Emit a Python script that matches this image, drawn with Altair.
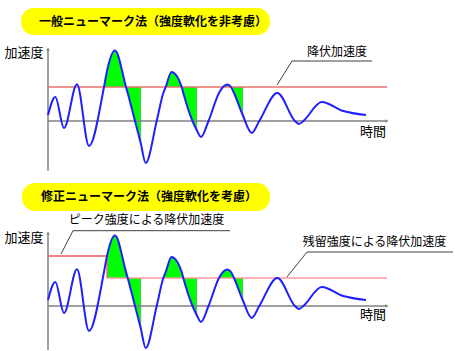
import altair as alt
import pandas as pd

# ---------------- data ----------------
# common acceleration wave: time (t) and acceleration (acc), baseline = 0
wave_t = [0, 7.3, 16, 29, 41, 56, 59, 67, 78, 79.7, 87, 92.7, 97.7, 108.7,
          115.3, 117.7, 123.5, 133.7, 135.3, 144.5, 148.7, 153, 160.5, 171,
          175, 179.3, 183, 186, 194.7, 203.7, 211.3, 229.3, 247, 251, 255.3,
          273.7, 295.3, 318]
wave_acc = [6, 24, -7, 36.7, -25, 34, 50, 70.5, 34, 28, 0, -22, -42, 0,
            28, 34, 49, 34, 28, 0, -9, -16, 0, 28,
            34, 36.5, 34, 28, 6, -12, 0, 28, 0, -3, 0,
            19, 10, 6]

# panel 1: constant yield acceleration
yield_top = 34
fill_start_top = [56, 117.7, 175]
fill_end_top = [92.7, 148.7, 194.7]

# panel 2: peak yield acceleration then residual yield acceleration
yield_peak = 50
yield_resid = 28
drop_t = 59
fill_start_bot = [59, 115.3, 171]
fill_end_bot = [92.7, 148.7, 194.7]

titles = ["一般ニューマーク法（強度軟化を非考慮）", "修正ニューマーク法（強度軟化を考慮）"]
ylabel = "加速度"
xlabel = "時間"
label_top = "降伏加速度"
label_peak = "ピーク強度による降伏加速度"
label_resid = "残留強度による降伏加速度"

# ---------------- layout ----------------
W = 455
H1, H2 = 176, 175
XDOM = [-48, 407]
YDOM1 = [-55, 121]
YDOM2 = [-45, 130]
FONT = "Noto Sans CJK JP"
BLUE = "#1f1fff"
GREEN = "#00ff00"
GRAY = "#808080"


def X(f="t"):
    return alt.X(f"{f}:Q", scale=alt.Scale(domain=XDOM, nice=False, zero=False), axis=None)


def Y(f, dom):
    return alt.Y(f"{f}:Q", scale=alt.Scale(domain=dom, nice=False, zero=False), axis=None)


wave = pd.DataFrame({"t": wave_t, "acc": wave_acc})


def fills(starts, ends, base):
    rows = []
    for i, (s, e) in enumerate(zip(starts, ends)):
        sub = wave[(wave.t >= s - 1e-9) & (wave.t <= e + 1e-9)]
        for _, r in sub.iterrows():
            rows.append({"t": r.t, "acc": r.acc, "base": base, "ev": i})
    return pd.DataFrame(rows)


def edges(ends, base):
    rows = []
    for e in ends:
        a = float(wave[abs(wave.t - e) < 1e-9].acc.iloc[0])
        rows.append({"t": e, "t2": e, "a": base, "a2": a})
    return pd.DataFrame(rows)


def seg(df, dom, color, width):
    return alt.Chart(df).mark_rule(color=color, strokeWidth=width).encode(
        x=X("t"), x2="t2:Q", y=Y("a", dom), y2="a2:Q")


def txt(df, dom, size, weight="normal", align="center"):
    return alt.Chart(df).mark_text(font=FONT, fontSize=size, fontWeight=weight,
                                   align=align, baseline="middle", color="black").encode(
        x=X("t"), y=Y("a", dom), text="s:N")


def polyline(df, dom, color="#404040"):
    return alt.Chart(df).mark_line(color=color, strokeWidth=1).encode(
        x=X("t"), y=Y("a", dom), order="o:Q")


def arrowheads(dom, ytop, xend):
    up = alt.Chart(pd.DataFrame({"t": [0], "a": [ytop]})).mark_point(
        shape="triangle-up", filled=True, size=14, color=GRAY, opacity=1).encode(x=X("t"), y=Y("a", dom))
    rt = alt.Chart(pd.DataFrame({"t": [xend], "a": [0]})).mark_point(
        shape="triangle-right", filled=True, size=14, color=GRAY, opacity=1).encode(x=X("t"), y=Y("a", dom))
    return up + rt


def common(dom, banner, title_pos, title, ylab_pos, ybot, ytop, fill_df, edge_df):
    b = alt.Chart(pd.DataFrame([banner])).mark_rect(cornerRadius=13, color="#ffff00").encode(
        x=X("t"), x2="t2:Q", y=Y("a", dom), y2="a2:Q")
    bt = txt(pd.DataFrame([{"t": title_pos[0], "a": title_pos[1], "s": title}]), dom, 12, "bold")
    fl = alt.Chart(fill_df).mark_area(color=GREEN, opacity=1, interpolate="monotone").encode(
        x=X("t"), y=Y("acc", dom), y2="base:Q", detail="ev:N")
    ed = seg(edge_df, dom, "#5cb85c", 1)
    yax = seg(pd.DataFrame([{"t": 0, "t2": 0, "a": ybot, "a2": ytop}]), dom, GRAY, 1.5)
    xax = seg(pd.DataFrame([{"t": 0, "t2": 339, "a": 0, "a2": 0}]), dom, GRAY, 1.5)
    yl = txt(pd.DataFrame([{"t": -24, "a": ylab_pos, "s": ylabel}]), dom, 13)
    return b, bt, alt.layer(fl, ed), yax, xax, yl


# ---------------- panel 1 ----------------
b, bt, fl, yax, xax, yl = common(
    YDOM1, {"t": -27, "t2": 222, "a": 113, "a2": 86}, (105, 99.5), titles[0], 68, -50, 72,
    fills(fill_start_top, fill_end_top, yield_top), edges(fill_end_top, yield_top))
yline = seg(pd.DataFrame([{"t": 0, "t2": 339, "a": yield_top, "a2": yield_top}]), YDOM1, "#e8726a", 1.5)
wv = alt.Chart(wave).mark_line(color=BLUE, strokeWidth=2, interpolate="monotone").encode(
    x=X("t"), y=Y("acc", YDOM1))
lead = polyline(pd.DataFrame({"t": [324, 244, 229], "a": [60, 60, 36], "o": [0, 1, 2]}), YDOM1)
lab = txt(pd.DataFrame([{"t": 289, "a": 69.5, "s": label_top}]), YDOM1, 12)
tl = txt(pd.DataFrame([{"t": 325, "a": -11, "s": xlabel}]), YDOM1, 13)
top = alt.layer(b, bt, fl, yax, xax, arrowheads(YDOM1, 72, 339), yline, wv, lead, lab, tl, yl).properties(
    width=W, height=H1)

# ---------------- panel 2 ----------------
b2, bt2, fl2, yax2, xax2, yl2 = common(
    YDOM2, {"t": -26, "t2": 222, "a": 123, "a2": 95}, (101, 109), titles[1], 68, -44, 73,
    fills(fill_start_bot, fill_end_bot, yield_resid), edges(fill_end_bot, yield_resid))
pk = seg(pd.DataFrame([{"t": 0, "t2": drop_t, "a": yield_peak, "a2": yield_peak}]), YDOM2, "#f05a5a", 1.5)
dv = seg(pd.DataFrame([{"t": drop_t, "t2": drop_t, "a": yield_peak, "a2": yield_resid}]), YDOM2, "#f07070", 1.5)
rs = seg(pd.DataFrame([{"t": drop_t, "t2": 339, "a": yield_resid, "a2": yield_resid}]), YDOM2, "#ff9a9a", 1.5)
wv2 = alt.Chart(wave).mark_line(color=BLUE, strokeWidth=2, interpolate="monotone").encode(
    x=X("t"), y=Y("acc", YDOM2))
lead2 = polyline(pd.DataFrame({"t": [182, 25, 13], "a": [75.3, 75.3, 52], "o": [0, 1, 2]}), YDOM2)
lead3 = polyline(pd.DataFrame({"t": [405, 259, 239], "a": [54, 54, 29], "o": [0, 1, 2]}), YDOM2)
lab2 = txt(pd.DataFrame([{"t": 98.5, "a": 86, "s": label_peak}]), YDOM2, 12)
lab3 = txt(pd.DataFrame([{"t": 326.5, "a": 64, "s": label_resid}]), YDOM2, 12)
tl2 = txt(pd.DataFrame([{"t": 325, "a": -9, "s": xlabel}]), YDOM2, 13)
bottom = alt.layer(b2, bt2, fl2, yax2, xax2, arrowheads(YDOM2, 73, 339), pk, dv, rs, wv2,
                   lead2, lead3, lab2, lab3, tl2, yl2).properties(width=W, height=H2)

chart = alt.vconcat(top, bottom, spacing=0, padding=0, background="white").configure_view(stroke=None)
chart.save("out.html", embed_options={"renderer": "svg", "actions": False})
